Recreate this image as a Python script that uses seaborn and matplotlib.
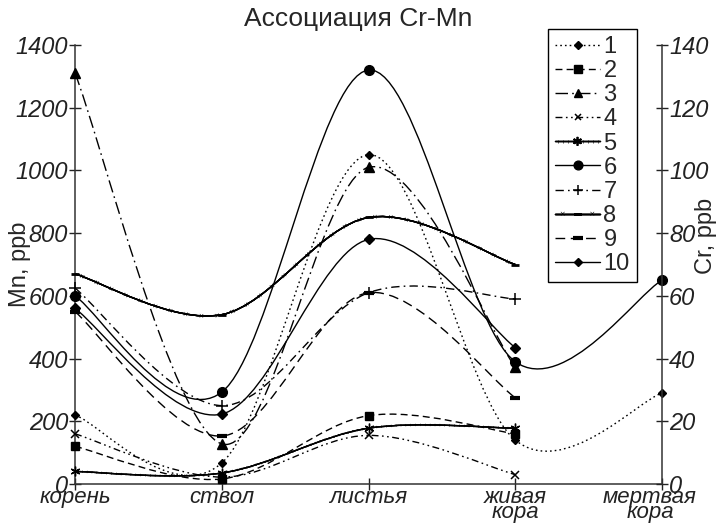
import numpy as np
import matplotlib
matplotlib.use("Agg")
import matplotlib.pyplot as plt
import matplotlib.transforms as mtrans
import seaborn as sns
from matplotlib.path import Path
from matplotlib.patches import PathPatch
from matplotlib.lines import Line2D
import matplotlib.patheffects as pe

# ---- data ----
categories = ["корень", "ствол", "листья", "живая\nкора", "мертвая\nкора"]
series_names = ["1", "2", "3", "4", "5", "6", "7", "8", "9", "10"]
s1 = [220, 67, 1050, 140, 290]
s2 = [120, 16, 218, 160]
s3 = [1310, 128, 1010, 372]
s4 = [160, 22, 155, 30]
s5 = [40, 35, 178, 178]
s6 = [600, 293, 1320, 390, 650]
s7 = [625, 250, 610, 590]
s8 = [670, 540, 850, 700]
s9 = [550, 153, 610, 275]
s10 = [560, 223, 780, 435]
mn_ticks = [0, 200, 400, 600, 800, 1000, 1200, 1400]
cr_ticks = [0, 20, 40, 60, 80, 100, 120, 140]
all_series = [s1, s2, s3, s4, s5, s6, s7, s8, s9, s10]

# ---- styles ----
dash_styles = [
    (0, (1.2, 2.2)),            # 1 dotted
    (0, (5, 3)),                # 2 dashed
    (0, (9, 3, 1.2, 3)),        # 3 long dash-dot
    (0, (5, 2.5, 1.2, 2.5, 1.2, 2.5)),  # 4
    "-",                        # 5
    "-",                        # 6
    (0, (6, 3, 1.2, 3)),        # 7
    "-",                        # 8
    (0, (7, 4)),                # 9
    "-",                        # 10
]
markers = ["D", "s", "^", "x", (6, 2, 0), "o", "+", "_", "_", "D"]
msizes = [4.5, 6, 6.5, 5.5, 7, 7, 8, 6, 7.5, 5]
mews = [1, 1, 1, 1.1, 1.0, 1, 1.1, 2.0, 3.0, 1]

tick5 = [pe.Stroke(), pe.withTickedStroke(spacing=3.5, angle=90, length=0.25, linewidth=0.4),
         pe.withTickedStroke(spacing=3.5, angle=-90, length=0.25, linewidth=0.4)]
tick8 = [pe.Stroke()] + [pe.withTickedStroke(spacing=11, angle=a, length=0.16, linewidth=0.4)
                         for a in (45, 135, -45, -135)]
effects = [None, None, None, None, tick5, None, None, tick8, None, None]

sns.set_style("ticks")
plt.rcParams["font.family"] = ["Liberation Sans", "DejaVu Sans"]

FS = 17

fig = plt.figure(figsize=(7.18, 5.26), dpi=100)
ax = fig.add_axes([75 / 718, 42 / 526, 587 / 718, 439 / 526])
ax2 = ax.twinx()


def smooth_path(xs, ys):
    pts = np.column_stack([xs, ys]).astype(float)
    n = len(pts)
    verts = [pts[0]]
    codes = [Path.MOVETO]
    for i in range(n - 1):
        p0 = pts[i - 1] if i > 0 else pts[i]
        p1 = pts[i]
        p2 = pts[i + 1]
        p3 = pts[i + 2] if i + 2 < n else pts[i + 1]
        c1 = p1 + (p2 - p0) / 6.0
        c2 = p2 - (p3 - p1) / 6.0
        verts += [c1, c2, p2]
        codes += [Path.CURVE4] * 3
    return Path(verts, codes)


handles = []
for i, vals in enumerate(all_series):
    xs = np.arange(len(vals))
    patch = PathPatch(smooth_path(xs, vals), facecolor="none", edgecolor="black",
                      lw=1.0, linestyle=dash_styles[i], clip_on=False, zorder=2)
    if effects[i] is not None:
        patch.set_path_effects(effects[i])
    ax.add_patch(patch)
    sns.lineplot(x=xs, y=vals, ax=ax, color="black", marker=markers[i],
                 markersize=msizes[i], markeredgewidth=mews[i], linestyle="none",
                 markeredgecolor="black", clip_on=False, zorder=3)
    h = Line2D([], [], color="black", lw=1.0, linestyle=dash_styles[i],
               marker=markers[i], markersize=msizes[i] * 0.9, markeredgewidth=mews[i])
    if effects[i] is not None:
        h.set_path_effects(effects[i])
    handles.append(h)

ax.set_xlim(0, 4)
ax.set_ylim(0, 1400)
ax2.set_ylim(0, 140)
ax.set_xticks(range(len(categories)))
ax.set_xticklabels(categories, fontsize=16, style="italic", linespacing=0.66)
ax.set_yticks(mn_ticks)
ax.set_yticklabels([str(t) for t in mn_ticks], fontsize=FS, style="italic")
ax2.set_yticks(cr_ticks)
ax2.set_yticklabels([str(t) for t in cr_ticks], fontsize=FS, style="italic")
ax.tick_params(axis="both", direction="inout", length=8, width=1, colors="#222222", pad=1)
ax.tick_params(axis="x", pad=-2)
ax2.tick_params(axis="y", direction="inout", length=8, width=1, colors="#222222", pad=1)
ax.set_xlabel("")
ax.set_ylabel("Mn, ppb", fontsize=FS)
ax.yaxis.set_label_coords(-0.075, 0.5)
ax2.set_ylabel("Cr, ppb", fontsize=FS)
ax2.yaxis.set_label_coords(1.056, 0.565)

labs = ax.get_xticklabels()
labs[-1].set_transform(labs[-1].get_transform()
                       + mtrans.ScaledTranslation(-12 / 100, 0, fig.dpi_scale_trans))

for a in (ax, ax2):
    a.spines["top"].set_visible(False)
    for s in ("left", "right", "bottom"):
        a.spines[s].set_color("#333333")
        a.spines[s].set_linewidth(1.1)
ax.spines["right"].set_visible(False)
ax2.spines["left"].set_visible(False)
ax2.spines["bottom"].set_visible(False)

fig.text(358 / 718, 1 - 19 / 526, "Ассоциация Cr-Mn", fontsize=19,
         ha="center", va="center")

leg = ax2.legend(handles, series_names, loc="upper left",
                 bbox_to_anchor=(548 / 718, 497 / 526), bbox_transform=fig.transFigure,
                 frameon=True, fancybox=False, edgecolor="black", framealpha=1,
                 fontsize=FS, labelspacing=0.09, handlelength=1.9, handletextpad=0.15,
                 borderpad=0.3, borderaxespad=0)
leg.get_frame().set_linewidth(1.0)

fig.savefig("out.png", dpi=100)
